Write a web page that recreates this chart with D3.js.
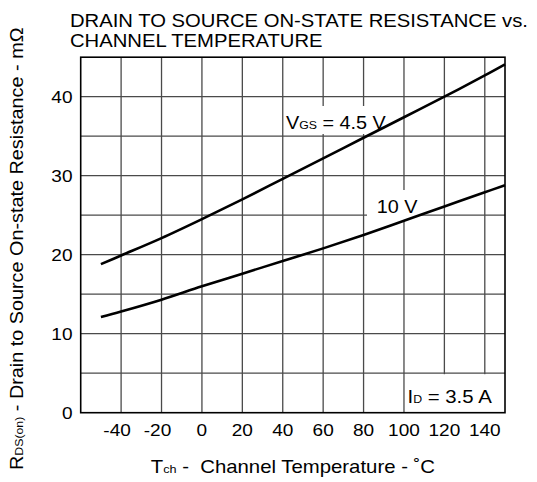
<!DOCTYPE html>
<html>
<head>
<meta charset="utf-8">
<script src="https://cdn.jsdelivr.net/npm/d3@7"></script>
<style>
  body { margin: 0; background: #fff; }
  svg { display: block; font-family: "Liberation Sans", Arial, sans-serif; }
  text { white-space: pre; }
</style>
</head>
<body>
<div id="chart"></div>
<script>
// chart values
var temps = [-50, -40, -20, 0, 20, 40, 60, 80, 100, 120, 140, 150];
var rds45 = [18.8, 19.9, 22.1, 24.5, 27.0, 29.6, 32.2, 34.8, 37.4, 40.0, 42.7, 44.1];
var rds10 = [12.1, 12.8, 14.3, 16.0, 17.6, 19.2, 20.8, 22.5, 24.3, 26.1, 27.9, 28.8];
var xTicks = [-40, -20, 0, 20, 40, 60, 80, 100, 120, 140];
var yTicks = [0, 10, 20, 30, 40];
var yGrid = [5, 10, 15, 20, 25, 30, 35, 40];

var width = 537, height = 482;
var plotLeft = 80.7, plotRight = 505, plotTop = 57.2, plotBottom = 412.7;
var stretch = 1.12; // the datasheet font runs wider than Arial

var svg = d3.select('#chart')
    .append('svg')
    .attr('width', width)
    .attr('height', height);

var x = d3.scaleLinear().domain([-60, 150]).range([plotLeft, plotRight]);
var y = d3.scaleLinear().domain([0, 45]).range([plotBottom, plotTop]);

// widen a text horizontally around its anchor point
var widen = function(sel, s) {
    s = s || stretch;
    sel.attr('transform', function() {
        var ax = +d3.select(this).attr('x');
        return 'translate(' + ax + ',0) scale(' + s + ',1) translate(' + (-ax) + ',0)';
    });
    return sel;
};

// grid
svg.selectAll('line.vgrid')
    .data(xTicks)
    .enter().append('line')
    .attr('class', 'vgrid')
    .attr('x1', function(d) { return x(d); })
    .attr('x2', function(d) { return x(d); })
    .attr('y1', plotTop)
    .attr('y2', plotBottom)
    .style('stroke', '#4a4a4a')
    .style('stroke-width', 1.3);

svg.selectAll('line.hgrid')
    .data(yGrid)
    .enter().append('line')
    .attr('class', 'hgrid')
    .attr('x1', plotLeft)
    .attr('x2', plotRight)
    .attr('y1', function(d) { return y(d); })
    .attr('y2', function(d) { return y(d); })
    .style('stroke', '#4a4a4a')
    .style('stroke-width', 1.3);

// blank areas behind the labels
svg.append('rect')
    .attr('x', x(100) + 1).attr('y', y(5) + 1)
    .attr('width', plotRight - x(100) - 1).attr('height', plotBottom - y(5) - 1)
    .style('fill', '#fff');
svg.append('rect')
    .attr('x', 284).attr('y', 106)
    .attr('width', 106).attr('height', 28)
    .style('fill', '#fff');
svg.append('rect')
    .attr('x', 367).attr('y', 190)
    .attr('width', 53).attr('height', 30)
    .style('fill', '#fff');

// frame
svg.append('rect')
    .attr('x', plotLeft).attr('y', plotTop)
    .attr('width', plotRight - plotLeft).attr('height', plotBottom - plotTop)
    .style('fill', 'none')
    .style('stroke', '#000')
    .style('stroke-width', 1.6);

// curves
var line = d3.line()
    .x(function(d) { return x(d[0]); })
    .y(function(d) { return y(d[1]); })
    .curve(d3.curveCatmullRom.alpha(0.5));

[rds45, rds10].forEach(function(series) {
    svg.append('path')
        .datum(temps.map(function(t, i) { return [t, series[i]]; }))
        .attr('d', line)
        .style('fill', 'none')
        .style('stroke', '#000')
        .style('stroke-width', 2.6);
});

// tick labels
svg.selectAll('text.xtick')
    .data(xTicks)
    .enter().append('text')
    .attr('class', 'xtick')
    .attr('x', function(d) { return x(d) + (d < 0 ? -4 : 0); })
    .attr('y', 436)
    .attr('text-anchor', 'middle')
    .style('font-size', '17px')
    .text(function(d) { return d; })
    .call(widen);

svg.selectAll('text.ytick')
    .data(yTicks)
    .enter().append('text')
    .attr('class', 'ytick')
    .attr('x', 72.5)
    .attr('y', function(d) { return y(d) + 6; })
    .attr('text-anchor', 'end')
    .style('font-size', '17px')
    .text(function(d) { return d; })
    .call(widen);

// title
svg.append('text').attr('x', 70).attr('y', 27.5)
    .style('font-size', '18.5px')
    .text('DRAIN TO SOURCE ON-STATE RESISTANCE vs.')
    .call(widen, 1.095);
svg.append('text').attr('x', 70).attr('y', 47)
    .style('font-size', '18.5px')
    .text('CHANNEL TEMPERATURE')
    .call(widen, 1.095);

// text with a small subscript
var subText = function(g, parts) {
    parts.forEach(function(p) {
        g.append('tspan')
            .style('font-size', p[1] ? '11px' : null)
            .text(p[0]);
    });
    return g;
};

var t1 = svg.append('text').attr('x', 286).attr('y', y(35.9)).style('font-size', '17.7px');
subText(t1, [['V', 0], ['GS', 1], [' = 4.5 V', 0]]).call(widen);

svg.append('text').attr('x', 376.7).attr('y', y(25.3))
    .style('font-size', '17.7px').text('10 V')
    .call(widen);

var t3 = svg.append('text').attr('x', 407.5).attr('y', 403).style('font-size', '18.2px');
subText(t3, [['I', 0], ['D', 1], [' = 3.5 A', 0]]).call(widen);

// axis titles
var xt = svg.append('text').attr('x', 150.7).attr('y', 473).style('font-size', '17.7px');
subText(xt, [['T', 0], ['ch', 1], [' -  Channel Temperature - \u02DAC', 0]]).call(widen, 1.15);

var yt = svg.append('text')
    .attr('transform', 'translate(23,470) rotate(-90) scale(' + stretch + ',1)')
    .style('font-size', '17.7px');
subText(yt, [['R', 0], ['DS(on)', 1], [' - Drain to Source On-state Resistance - m\u03A9', 0]]);
</script>
</body>
</html>
